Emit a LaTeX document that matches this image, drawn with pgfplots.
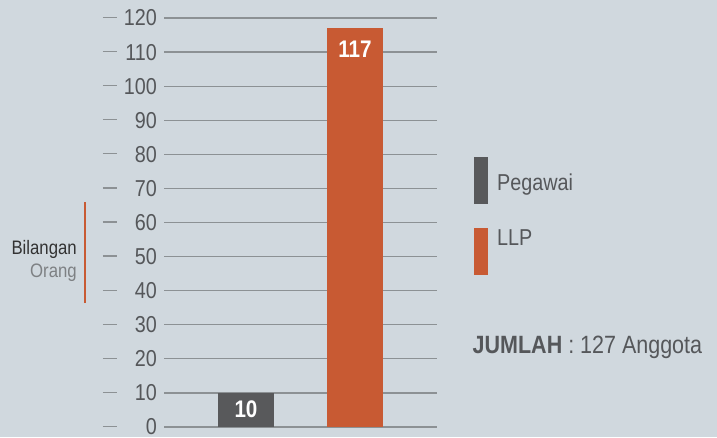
\documentclass[border=0pt]{standalone}
\usepackage{pgfplots}
\pgfplotsset{compat=1.18}
\usepackage{fontspec}
\setmainfont{Liberation Sans}[FakeStretch=0.86]
\definecolor{bg}{HTML}{D0D8DE}
\definecolor{darkbar}{HTML}{58595B}
\definecolor{orangebar}{HTML}{C85A33}
\definecolor{gridgray}{HTML}{8C9194}
\definecolor{txtgray}{HTML}{55575A}
\definecolor{lightgray2}{HTML}{7E8184}
\begin{document}
\begin{tikzpicture}[x=1pt,y=1pt]
\fill[bg] (0,0) rectangle (717,437);
\begin{axis}[
  at={(164pt,10pt)}, anchor=south west,
  scale only axis, width=273pt, height=409pt,
  xmin=0, xmax=273, ymin=0, ymax=120,
  ytick={0,10,...,120}, xtick=\empty,
  axis line style={draw=none},
  major tick length=0pt,
  ymajorgrids, grid style={color=gridgray, line width=1.3pt},
  /pgf/number format/assume math mode=true,
  yticklabel={\textcolor{gridgray}{\rule[0.34em]{14pt}{1.2pt}}\hspace{7pt}\makebox[33pt][r]{\pgfmathprintnumber{\tick}}},
  yticklabel style={anchor=east, inner sep=0pt, xshift=-7pt, font=\fontsize{23}{26}\selectfont, text=txtgray},
  clip=false,
]
\addplot[ybar, bar shift=0pt, bar width=56pt, fill=darkbar, draw=none,
  nodes near coords, nodes near coords style={anchor=north, inner sep=0pt, yshift=-8pt, text=white, font=\fontsize{24}{26}\selectfont\bfseries}]
  coordinates {(82,10)};
\addplot[ybar, bar shift=0pt, bar width=56pt, fill=orangebar, draw=none,
  nodes near coords, nodes near coords style={anchor=north, inner sep=0pt, yshift=-13pt, text=white, font=\fontsize{24}{26}\selectfont\bfseries}]
  coordinates {(191,117)};
\end{axis}
% y axis title
\node[anchor=base east, inner sep=0pt, text=black!80, font=\fontsize{19.5}{22}\selectfont] at (77,183) {Bilangan};
\node[anchor=base east, inner sep=0pt, text=lightgray2, font=\fontsize{19.5}{22}\selectfont] at (77,160) {Orang};
\draw[orangebar, line width=1.5pt] (85,134) -- (85,235);
% legend
\fill[darkbar] (474,233) rectangle (488,280);
\node[anchor=base west, inner sep=0pt, text=txtgray, font=\fontsize{23}{26}\selectfont] at (497,247) {Pegawai};
\fill[orangebar] (474,162) rectangle (488,209);
\node[anchor=base west, inner sep=0pt, text=txtgray, font=\fontsize{23}{26}\selectfont] at (497,192) {LLP};
\node[anchor=base west, inner sep=0pt, text=txtgray, font=\fontsize{25}{27}\selectfont] at (472.5,84) {\textbf{JUMLAH} : 127 Anggota};
\end{tikzpicture}
\end{document}
